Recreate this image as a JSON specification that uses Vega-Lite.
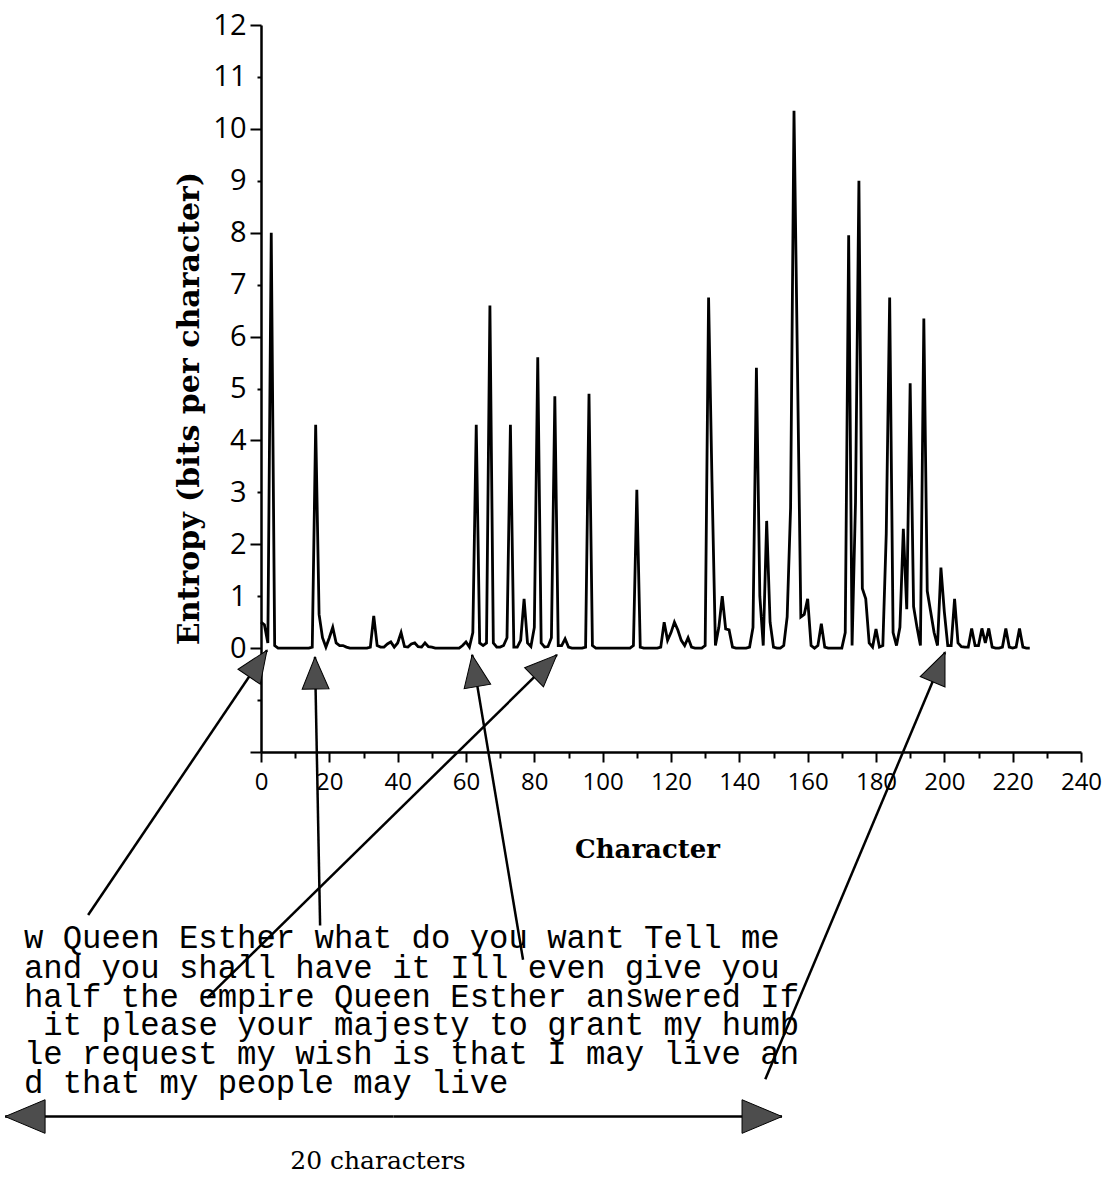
{
  "$schema": "https://vega.github.io/schema/vega-lite/v6.json",
  "autosize": "none",
  "padding": {"left": 261, "top": 25, "right": 26, "bottom": 425},
  "width": 820,
  "height": 727,
  "background": "white",
  "config": {
    "view": {"stroke": null},
    "axis": {"grid": false, "domainColor": "black", "tickColor": "black", "labelColor": "black", "titleColor": "black", "domainWidth": 2.5, "tickWidth": 2}
  },
  "resolve": {"axis": {"x": "independent", "y": "independent"}},
  "datasets": {
    "entropy": [
      {"c":0,"e":0.5},{"c":1,"e":0.45},{"c":2,"e":0.1},{"c":3,"e":8.0},{"c":4,"e":0.05},{"c":5,"e":0},{"c":6,"e":0},{"c":7,"e":0},{"c":8,"e":0},{"c":9,"e":0},
      {"c":10,"e":0},{"c":11,"e":0},{"c":12,"e":0},{"c":13,"e":0},{"c":14,"e":0},{"c":15,"e":0.02},{"c":16,"e":4.3},{"c":17,"e":0.65},{"c":18,"e":0.2},{"c":19,"e":0.02},
      {"c":20,"e":0.2},{"c":21,"e":0.4},{"c":22,"e":0.1},{"c":23,"e":0.05},{"c":24,"e":0.05},{"c":25,"e":0.02},{"c":26,"e":0},{"c":27,"e":0},{"c":28,"e":0},{"c":29,"e":0},
      {"c":30,"e":0},{"c":31,"e":0},{"c":32,"e":0.02},{"c":33,"e":0.62},{"c":34,"e":0.05},{"c":35,"e":0.02},{"c":36,"e":0.02},{"c":37,"e":0.08},{"c":38,"e":0.12},{"c":39,"e":0.02},
      {"c":40,"e":0.1},{"c":41,"e":0.3},{"c":42,"e":0.03},{"c":43,"e":0.02},{"c":44,"e":0.08},{"c":45,"e":0.1},{"c":46,"e":0.03},{"c":47,"e":0.02},{"c":48,"e":0.1},{"c":49,"e":0.03},
      {"c":50,"e":0.02},{"c":51,"e":0},{"c":52,"e":0},{"c":53,"e":0},{"c":54,"e":0},{"c":55,"e":0},{"c":56,"e":0},{"c":57,"e":0},{"c":58,"e":0},{"c":59,"e":0.05},
      {"c":60,"e":0.12},{"c":61,"e":0.02},{"c":62,"e":0.3},{"c":63,"e":4.3},{"c":64,"e":0.1},{"c":65,"e":0.05},{"c":66,"e":0.1},{"c":67,"e":6.6},{"c":68,"e":0.1},{"c":69,"e":0.02},
      {"c":70,"e":0.02},{"c":71,"e":0.05},{"c":72,"e":0.2},{"c":73,"e":4.3},{"c":74,"e":0.02},{"c":75,"e":0.02},{"c":76,"e":0.15},{"c":77,"e":0.95},{"c":78,"e":0.1},{"c":79,"e":0.03},
      {"c":80,"e":0.4},{"c":81,"e":5.6},{"c":82,"e":0.1},{"c":83,"e":0.02},{"c":84,"e":0.03},{"c":85,"e":0.2},{"c":86,"e":4.85},{"c":87,"e":0.05},{"c":88,"e":0.05},{"c":89,"e":0.18},
      {"c":90,"e":0.02},{"c":91,"e":0},{"c":92,"e":0},{"c":93,"e":0},{"c":94,"e":0},{"c":95,"e":0.02},{"c":96,"e":4.9},{"c":97,"e":0.05},{"c":98,"e":0},{"c":99,"e":0},
      {"c":100,"e":0},{"c":101,"e":0},{"c":102,"e":0},{"c":103,"e":0},{"c":104,"e":0},{"c":105,"e":0},{"c":106,"e":0},{"c":107,"e":0},{"c":108,"e":0},{"c":109,"e":0.05},
      {"c":110,"e":3.05},{"c":111,"e":0.02},{"c":112,"e":0},{"c":113,"e":0},{"c":114,"e":0},{"c":115,"e":0},{"c":116,"e":0},{"c":117,"e":0.02},{"c":118,"e":0.5},{"c":119,"e":0.15},
      {"c":120,"e":0.3},{"c":121,"e":0.5},{"c":122,"e":0.35},{"c":123,"e":0.15},{"c":124,"e":0.05},{"c":125,"e":0.2},{"c":126,"e":0.02},{"c":127,"e":0},{"c":128,"e":0},{"c":129,"e":0},
      {"c":130,"e":0.05},{"c":131,"e":6.75},{"c":132,"e":3.2},{"c":133,"e":0.05},{"c":134,"e":0.4},{"c":135,"e":1.0},{"c":136,"e":0.37},{"c":137,"e":0.35},{"c":138,"e":0.02},{"c":139,"e":0},
      {"c":140,"e":0},{"c":141,"e":0},{"c":142,"e":0},{"c":143,"e":0.02},{"c":144,"e":0.4},{"c":145,"e":5.4},{"c":146,"e":1.0},{"c":147,"e":0.05},{"c":148,"e":2.45},{"c":149,"e":0.5},
      {"c":150,"e":0.02},{"c":151,"e":0},{"c":152,"e":0},{"c":153,"e":0.05},{"c":154,"e":0.6},{"c":155,"e":2.7},{"c":156,"e":10.35},{"c":157,"e":5.5},{"c":158,"e":0.6},{"c":159,"e":0.65},
      {"c":160,"e":0.95},{"c":161,"e":0.05},{"c":162,"e":0},{"c":163,"e":0.05},{"c":164,"e":0.47},{"c":165,"e":0.02},{"c":166,"e":0},{"c":167,"e":0},{"c":168,"e":0},{"c":169,"e":0},
      {"c":170,"e":0},{"c":171,"e":0.3},{"c":172,"e":7.95},{"c":173,"e":0.05},{"c":174,"e":2.8},{"c":175,"e":9.0},{"c":176,"e":1.15},{"c":177,"e":0.95},{"c":178,"e":0.1},{"c":179,"e":0.02},
      {"c":180,"e":0.37},{"c":181,"e":0.02},{"c":182,"e":0.05},{"c":183,"e":2.2},{"c":184,"e":6.75},{"c":185,"e":0.3},{"c":186,"e":0.05},{"c":187,"e":0.4},{"c":188,"e":2.3},{"c":189,"e":0.75},
      {"c":190,"e":5.1},{"c":191,"e":0.8},{"c":192,"e":0.4},{"c":193,"e":0.05},{"c":194,"e":6.35},{"c":195,"e":1.1},{"c":196,"e":0.7},{"c":197,"e":0.3},{"c":198,"e":0.05},{"c":199,"e":1.55},
      {"c":200,"e":0.7},{"c":201,"e":0.05},{"c":202,"e":0.05},{"c":203,"e":0.95},{"c":204,"e":0.1},{"c":205,"e":0.03},{"c":206,"e":0.02},{"c":207,"e":0.02},{"c":208,"e":0.38},{"c":209,"e":0.05},
      {"c":210,"e":0.05},{"c":211,"e":0.38},{"c":212,"e":0.1},{"c":213,"e":0.38},{"c":214,"e":0.02},{"c":215,"e":0},{"c":216,"e":0},{"c":217,"e":0.02},{"c":218,"e":0.38},{"c":219,"e":0.02},
      {"c":220,"e":0},{"c":221,"e":0.02},{"c":222,"e":0.38},{"c":223,"e":0.02},{"c":224,"e":0},{"c":225,"e":0}
    ],
    "arrows": [
      {"kind":"arrow","ax":-50.6,"ay":-5.14,"bx":1.76,"by":-0.04},
      {"kind":"arrow","ax":17.3,"ay":-5.34,"bx":15.8,"by":-0.17},
      {"kind":"arrow","ax":76.7,"ay":-6.0,"bx":61.8,"by":-0.13},
      {"kind":"arrow","ax":-15.8,"ay":-6.74,"bx":86.6,"by":-0.13},
      {"kind":"arrow","ax":147.6,"ay":-8.3,"bx":200.2,"by":-0.08},
      {"kind":"span","ax":38.8,"ay":-9.02,"bx":-74.9,"by":-9.02},
      {"kind":"span","ax":38.8,"ay":-9.02,"bx":152.5,"by":-9.02}
    ],
    "lines": [
      {"t":"w Queen Esther what do you want Tell me","tx":-69.4,"ty":-5.59},
      {"t":"and you shall have it Ill even give you","tx":-69.4,"ty":-6.15},
      {"t":"half the empire Queen Esther answered If","tx":-69.4,"ty":-6.71},
      {"t":"it please your majesty to grant my humb","tx":-63.7,"ty":-7.26},
      {"t":"le request my wish is that I may live an","tx":-69.4,"ty":-7.82},
      {"t":"d that my people may live","tx":-69.4,"ty":-8.38}
    ],
    "caption": [
      {"t":"20 characters","tx":34.2,"ty":-9.87}
    ]
  },
  "layer": [
    {
      "data": {"name": "entropy"},
      "mark": {"type": "line", "color": "black", "strokeWidth": 2.8, "interpolate": "linear"},
      "encoding": {
        "x": {
          "field": "c", "type": "quantitative",
          "scale": {"domain": [0, 240], "nice": false, "zero": false},
          "axis": {
            "orient": "bottom",
            "values": [0,20,40,60,80,100,120,140,160,180,200,220,240],
            "tickSize": 10,
            "labelFont": "Open Sans", "labelFontSize": 24, "labelPadding": 8,
            "labelFlush": false, "labelOverlap": false,
            "title": "Character", "titleFont": "DejaVu Serif", "titleFontWeight": "bold", "titleFontSize": 26, "titlePadding": 42,
            "titleX": 386
          }
        },
        "y": {
          "field": "e", "type": "quantitative",
          "scale": {"domain": [-2, 12], "nice": false, "zero": false},
          "axis": {
            "orient": "left",
            "values": [-2,0,2,4,6,8,10,12],
            "labelExpr": "datum.value < 0 ? '' : datum.label",
            "tickSize": 11,
            "labelFont": "Open Sans", "labelFontSize": 29, "labelPadding": 4,
            "labelFlush": false, "labelOverlap": false,
            "title": "Entropy (bits per character)", "titleFont": "DejaVu Serif", "titleFontWeight": "bold", "titleFontSize": 30, "titlePadding": 8,
            "titleY": 383
          }
        }
      }
    },
    {
      "data": {"name": "arrows"},
      "mark": {"type": "rule", "color": "black", "strokeWidth": 2.5},
      "encoding": {
        "x": {"field": "ax", "type": "quantitative", "scale": {"domain": [0, 240], "nice": false, "zero": false}, "axis": null},
        "y": {"field": "ay", "type": "quantitative", "scale": {"domain": [-2, 12], "nice": false, "zero": false}, "axis": null},
        "x2": {"field": "bx"},
        "y2": {"field": "by"}
      }
    },
    {
      "data": {"name": "arrows"},
      "transform": [
        {"calculate": "atan2((datum.bx - datum.ax) * 3.417, (datum.by - datum.ay) * 51.93) * 180 / PI", "as": "ang"}
      ],
      "mark": {"type": "point", "shape": "M0,0L0.42,1L-0.42,1Z", "filled": true, "fill": "#4d4d4d", "stroke": "black", "strokeWidth": 1, "opacity": 1},
      "encoding": {
        "x": {"field": "bx", "type": "quantitative", "scale": {"domain": [0, 240], "nice": false, "zero": false}, "axis": null},
        "y": {"field": "by", "type": "quantitative", "scale": {"domain": [-2, 12], "nice": false, "zero": false}, "axis": null},
        "angle": {"field": "ang", "type": "quantitative", "scale": null},
        "size": {"condition": {"test": "datum.kind === 'span'", "value": 6400}, "value": 4096}
      }
    },
    {
      "data": {"name": "lines"},
      "mark": {"type": "text", "font": "Liberation Mono", "fontSize": 32.3, "align": "left", "baseline": "middle", "color": "black"},
      "encoding": {
        "x": {"field": "tx", "type": "quantitative", "scale": {"domain": [0, 240], "nice": false, "zero": false}, "axis": null},
        "y": {"field": "ty", "type": "quantitative", "scale": {"domain": [-2, 12], "nice": false, "zero": false}, "axis": null},
        "text": {"field": "t"}
      }
    },
    {
      "data": {"name": "caption"},
      "mark": {"type": "text", "font": "DejaVu Serif", "fontSize": 25, "align": "center", "baseline": "middle", "color": "black"},
      "encoding": {
        "x": {
          "field": "tx", "type": "quantitative", "scale": {"domain": [0, 240], "nice": false, "zero": false},
          "axis": {"orient": "bottom", "values": [10,30,50,70,90,110,130,150,170,190,210,230], "tickSize": 6, "labels": false, "domain": false, "title": null}
        },
        "y": {
          "field": "ty", "type": "quantitative", "scale": {"domain": [-2, 12], "nice": false, "zero": false},
          "axis": {
            "orient": "left", "values": [-1,1,3,5,7,9,11], "tickSize": 4, "domain": false, "title": null,
            "labelExpr": "datum.value < 0 ? '' : datum.label",
            "labelFont": "Open Sans", "labelFontSize": 29, "labelPadding": 11,
            "labelFlush": false, "labelOverlap": false
          }
        },
        "text": {"field": "t"}
      }
    }
  ]
}
